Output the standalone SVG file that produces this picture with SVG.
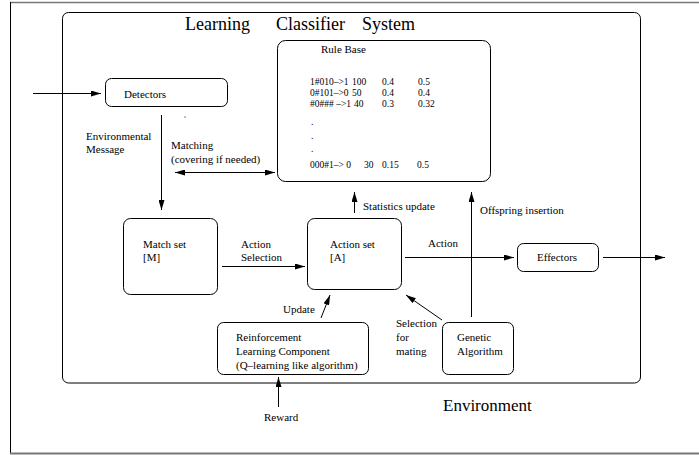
<svg xmlns="http://www.w3.org/2000/svg" width="699" height="455" viewBox="0 0 699 455">
<style>
text{font-family:"Liberation Serif","Times New Roman",serif;fill:#000}
.s{font-size:11px}
.r{font-size:9.5px}
.big{font-size:18px}
.box{fill:#fff;stroke:#000;stroke-width:1}
.ln{stroke:#000;stroke-width:1;fill:none}
</style>
<defs>
<marker id="ah" viewBox="0 0 10 6" refX="10" refY="3" markerWidth="10" markerHeight="6" markerUnits="userSpaceOnUse" orient="auto-start-reverse">
<path d="M0,0 L10,3 L0,6 z" fill="#000"/>
</marker>
</defs>
<rect width="699" height="455" fill="#fff"/>
<g id="environment-frame">
<line x1="10" y1="2.5" x2="699" y2="2.5" stroke="#777" stroke-width="1.5"/>
<line x1="10.5" y1="2" x2="10.5" y2="454" stroke="#000" stroke-width="1"/>
<line x1="10" y1="453.5" x2="699" y2="453.5" stroke="#777" stroke-width="2"/>
<text x="443" y="411" style="font-size:17px">Environment</text>
</g>
<g id="lcs-frame">
<rect x="62.5" y="12.5" width="578" height="370.5" rx="6" style="fill:none;stroke:#000;stroke-width:1"/>
<text class="big" x="185" y="30">Learning</text>
<text class="big" x="276" y="30">Classifier</text>
<text class="big" x="362" y="30">System</text>
</g>
<g id="rule-base">
<rect x="277.5" y="40.5" width="213" height="141" rx="8" class="box"/>
<text class="s" x="321" y="53">Rule Base</text>
<text class="r" x="310" y="85">1#010–&gt;1</text><text class="r" x="352" y="85">100</text><text class="r" x="382" y="85">0.4</text><text class="r" x="418" y="85">0.5</text>
<text class="r" x="310" y="96">0#101–&gt;0</text><text class="r" x="352" y="96">50</text><text class="r" x="382" y="96">0.4</text><text class="r" x="418" y="96">0.4</text>
<text class="r" x="310" y="107">#0### –&gt;1</text><text class="r" x="354" y="107">40</text><text class="r" x="382" y="107">0.3</text><text class="r" x="418" y="107">0.32</text>
<text class="r" x="311" y="125">.</text>
<text class="r" x="311" y="139">.</text>
<text class="r" x="311" y="152">.</text>
<text class="r" x="310" y="168">000#1–&gt; 0</text><text class="r" x="364" y="168">30</text><text class="r" x="382" y="168">0.15</text><text class="r" x="417" y="168">0.5</text>
</g>
<g id="detectors">
<rect x="105.5" y="78.5" width="122" height="28" rx="6" class="box"/>
<text class="s" x="124" y="98">Detectors</text>
</g>
<g id="match-set">
<rect x="123.5" y="218.5" width="94" height="76" rx="7" class="box"/>
<text class="s" x="143" y="248">Match set</text>
<text class="s" x="143" y="261">[M]</text>
</g>
<g id="action-set">
<rect x="307.5" y="218.5" width="94" height="71" rx="7" class="box"/>
<text class="s" x="330" y="248">Action set</text>
<text class="s" x="330" y="261">[A]</text>
</g>
<g id="effectors">
<rect x="517.5" y="243.5" width="81" height="28" rx="6" class="box"/>
<text class="s" x="537" y="261">Effectors</text>
</g>
<g id="reinforcement">
<rect x="217.5" y="322.5" width="151" height="52" rx="6" class="box"/>
<text class="s" x="236" y="341">Reinforcement</text>
<text class="s" x="236" y="355">Learning Component</text>
<text class="s" x="236" y="369">(Q–learning like algorithm)</text>
</g>
<g id="genetic-algorithm">
<rect x="442.5" y="322.5" width="71" height="52" rx="6" class="box"/>
<text class="s" x="457" y="341">Genetic</text>
<text class="s" x="457" y="355">Algorithm</text>
</g>
<g id="connectors">
<line class="ln" x1="33" y1="93.5" x2="101" y2="93.5" marker-end="url(#ah)"/>
<line class="ln" x1="161.5" y1="115" x2="161.5" y2="210" marker-end="url(#ah)"/>
<line class="ln" x1="175" y1="172.5" x2="275" y2="172.5" marker-start="url(#ah)" marker-end="url(#ah)"/>
<line class="ln" x1="222" y1="266.5" x2="305" y2="266.5" marker-end="url(#ah)"/>
<line class="ln" x1="354.5" y1="213" x2="354.5" y2="192" marker-end="url(#ah)"/>
<line class="ln" x1="471.5" y1="317" x2="471.5" y2="192" marker-end="url(#ah)"/>
<line class="ln" x1="405" y1="257.5" x2="514" y2="257.5" marker-end="url(#ah)"/>
<line class="ln" x1="603" y1="257.5" x2="665" y2="257.5" marker-end="url(#ah)"/>
<line class="ln" x1="442" y1="320" x2="406" y2="295" marker-end="url(#ah)"/>
<line class="ln" x1="321" y1="318" x2="330" y2="295" marker-end="url(#ah)"/>
<line class="ln" x1="278.5" y1="407" x2="278.5" y2="377" marker-end="url(#ah)"/>
<rect x="184.5" y="116.5" width="1" height="1" fill="#000"/>
<text class="s" x="86" y="140">Environmental</text>
<text class="s" x="86" y="153">Message</text>
<text class="s" x="171" y="149">Matching</text>
<text class="s" x="171" y="163">(covering if needed)</text>
<text class="s" x="241" y="248">Action</text>
<text class="s" x="241" y="261">Selection</text>
<text class="s" x="363" y="210">Statistics update</text>
<text class="s" x="480" y="214">Offspring insertion</text>
<text class="s" x="428" y="247">Action</text>
<text class="s" x="283" y="313">Update</text>
<text class="s" x="396" y="327">Selection</text>
<text class="s" x="396" y="341">for</text>
<text class="s" x="396" y="355">mating</text>
<text class="s" x="264" y="421">Reward</text>
</g>
</svg>
